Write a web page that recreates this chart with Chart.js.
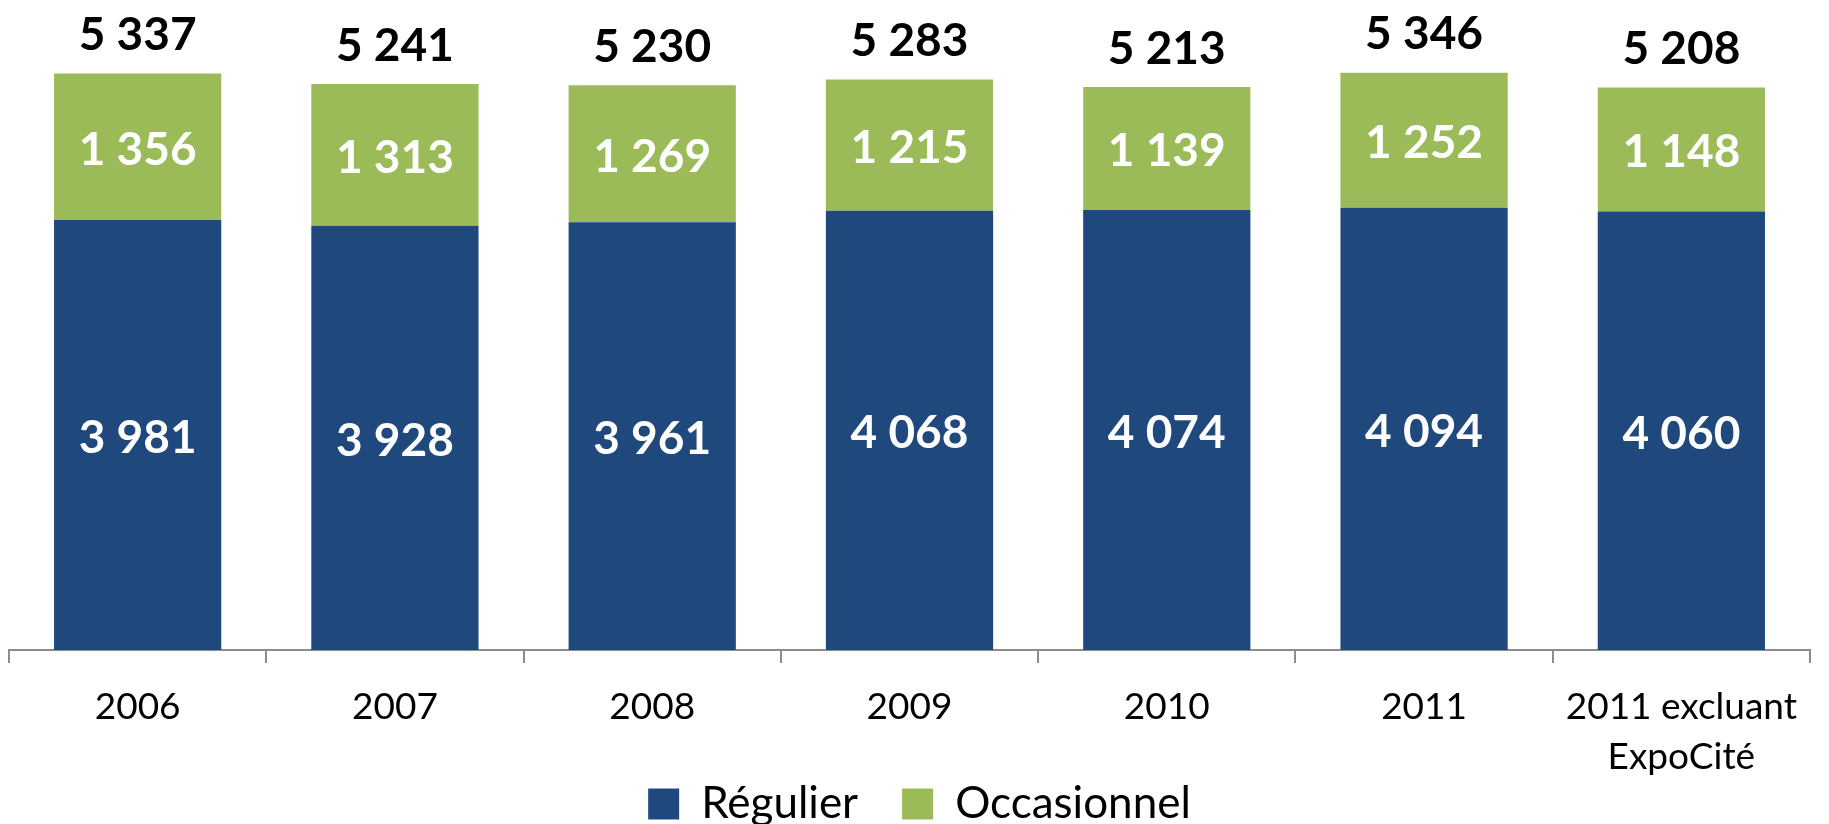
<!DOCTYPE html>
<html>
<head>
<meta charset="utf-8">
<script src="https://cdn.jsdelivr.net/npm/chart.js@4/dist/chart.umd.min.js"></script>
<style>
html,body{margin:0;padding:0;background:#fff;overflow:hidden;}
#wrap{width:1829px;height:824px;position:relative;overflow:hidden;}
</style>
</head>
<body>
<div id="wrap"><canvas id="c" width="1829" height="876"></canvas></div>
<script>
const categories = ['2006', '2007', '2008', '2009', '2010', '2011', ['2011 excluant', 'ExpoCité']];
const regulier = [3981, 3928, 3961, 4068, 4074, 4094, 4060];
const occasionnel = [1356, 1313, 1269, 1215, 1139, 1252, 1148];
const totals = [5337, 5241, 5230, 5283, 5213, 5346, 5208];
const seriesNames = ['Régulier', 'Occasionnel'];

const FONT = 'Lato, "Open Sans", sans-serif';
const LEGEND_GAP = 44;
function fmt(v){ return String(v).replace(/\B(?=(\d{3})+(?!\d))/g, ' '); }

const labelPlugin = {
  id: 'valueLabels',
  afterDatasetsDraw(chart){
    const ctx = chart.ctx;
    ctx.save();
    ctx.textAlign = 'center';
    ctx.textBaseline = 'middle';
    ctx.font = 'bold 46px ' + FONT;
    ctx.fillStyle = '#ffffff';
    chart.data.datasets.forEach((ds, i) => {
      const meta = chart.getDatasetMeta(i);
      meta.data.forEach((bar, j) => {
        ctx.fillText(fmt(ds.data[j]), bar.x, (bar.y + bar.base) / 2 + 3);
      });
    });
    const topMeta = chart.getDatasetMeta(chart.data.datasets.length - 1);
    ctx.fillStyle = '#000000';
    topMeta.data.forEach((bar, j) => {
      ctx.fillText(fmt(totals[j]), bar.x, bar.y - 38);
    });
    ctx.restore();
  }
};

// keep the wide horizontal gap between legend items but tighten its top padding
const legendNudge = {
  id: 'legendNudge',
  afterLayout(chart){
    const L = chart.legend;
    if (!L) return;
    const shift = LEGEND_GAP - 4;
    L.top -= shift;
    L.bottom -= shift;
    L.left += 10;
    L.right += 10;
  }
};

new Chart(document.getElementById('c'), {
  type: 'bar',
  data: {
    labels: categories,
    datasets: [
      { label: seriesNames[0], data: regulier, backgroundColor: '#1F497D', borderWidth: 0 },
      { label: seriesNames[1], data: occasionnel, backgroundColor: '#9BBB59', borderWidth: 0 }
    ]
  },
  options: {
    responsive: false,
    animation: false,
    layout: { padding: { top: 2, left: 9, right: 19, bottom: 0 } },
    datasets: { bar: { categoryPercentage: 1.0, barPercentage: 0.65 } },
    scales: {
      x: {
        stacked: true,
        border: { display: true, color: '#8c8c8c', width: 2 },
        grid: { offset: true, drawOnChartArea: false, drawTicks: true, tickLength: 13, color: '#8c8c8c', lineWidth: 2 },
        ticks: { color: '#000', font: { family: FONT, size: 37, lineHeight: 1.36 }, padding: 19, maxRotation: 0, autoSkip: false },
        afterFit(scale){ scale.height = 128; }
      },
      y: {
        stacked: true,
        display: false,
        min: 0,
        max: 6000
      }
    },
    plugins: {
      legend: {
        position: 'bottom',
        labels: { color: '#000', font: { family: FONT, size: 44 }, boxWidth: 31, boxHeight: 31, padding: LEGEND_GAP }
      },
      tooltip: { enabled: false }
    }
  },
  plugins: [labelPlugin, legendNudge]
});
</script>
</body>
</html>
